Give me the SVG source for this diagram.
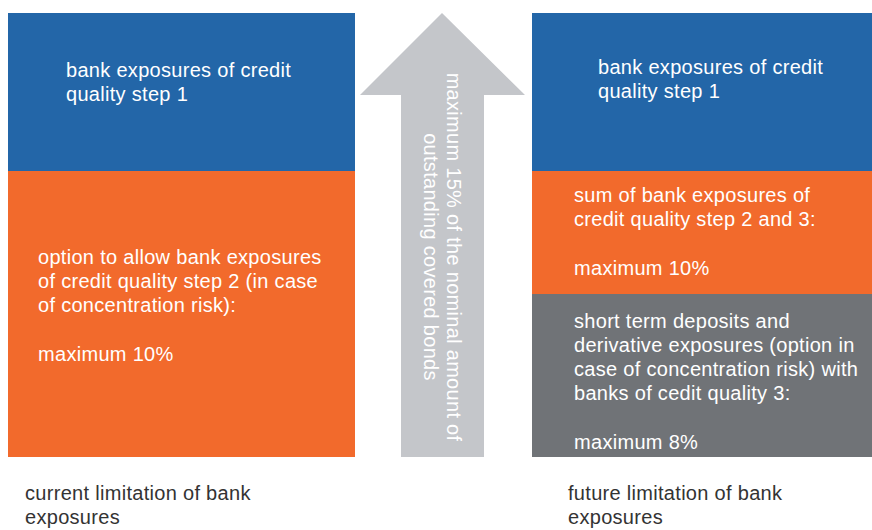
<svg xmlns="http://www.w3.org/2000/svg" width="872" height="530" viewBox="0 0 872 530">
<style>
.t{font-family:"Liberation Sans",Arial,sans-serif;font-size:20px;letter-spacing:0.3px;fill:#ffffff}
.d{font-family:"Liberation Sans",Arial,sans-serif;font-size:20px;letter-spacing:0.3px;fill:#333333}
</style>
<rect width="872" height="530" fill="#ffffff"/>
<g id="left-blue"><rect x="8" y="13" width="347" height="158" fill="#2366a8"/>
<text class="t" x="66" y="77">bank exposures of credit<tspan x="66" dy="24">quality step 1</tspan></text></g>
<g id="left-orange"><rect x="8" y="171" width="347" height="286" fill="#f26a2c"/>
<text class="t" x="38" y="264">option to allow bank exposures<tspan x="38" dy="24">of credit quality step 2 (in case</tspan><tspan x="38" dy="24">of concentration risk):</tspan><tspan x="38" dy="49">maximum 10%</tspan></text></g>
<g id="arrow"><polygon points="442,13 525,95 484,95 484,457 401,457 401,95 360,95" fill="#c4c6ca"/>
<text class="t" text-anchor="middle" transform="translate(447,257) rotate(90)">maximum 15% of the nominal amount of<tspan x="0" dy="23">outstanding covered bonds</tspan></text></g>
<g id="right-blue"><rect x="532" y="13" width="340" height="158" fill="#2366a8"/>
<text class="t" x="598" y="74">bank exposures of credit<tspan x="598" dy="24">quality step 1</tspan></text></g>
<g id="right-orange"><rect x="532" y="171" width="340" height="123" fill="#f26a2c"/>
<text class="t" x="574" y="202">sum of bank exposures of<tspan x="574" dy="24">credit quality step 2 and 3:</tspan><tspan x="574" dy="49">maximum 10%</tspan></text></g>
<g id="right-gray"><rect x="532" y="294" width="340" height="163" fill="#707377"/>
<text class="t" x="574" y="328">short term deposits and<tspan x="574" dy="24">derivative exposures (option in</tspan><tspan x="574" dy="24">case of concentration risk) with</tspan><tspan x="574" dy="24">banks of cedit quality 3:</tspan><tspan x="574" dy="49">maximum 8%</tspan></text></g>
<g id="label-current"><text class="d" x="25" y="500">current limitation of bank<tspan x="25" dy="24">exposures</tspan></text></g>
<g id="label-future"><text class="d" x="568" y="500">future limitation of bank<tspan x="568" dy="24">exposures</tspan></text></g>
<g id="connectors"/>
</svg>
